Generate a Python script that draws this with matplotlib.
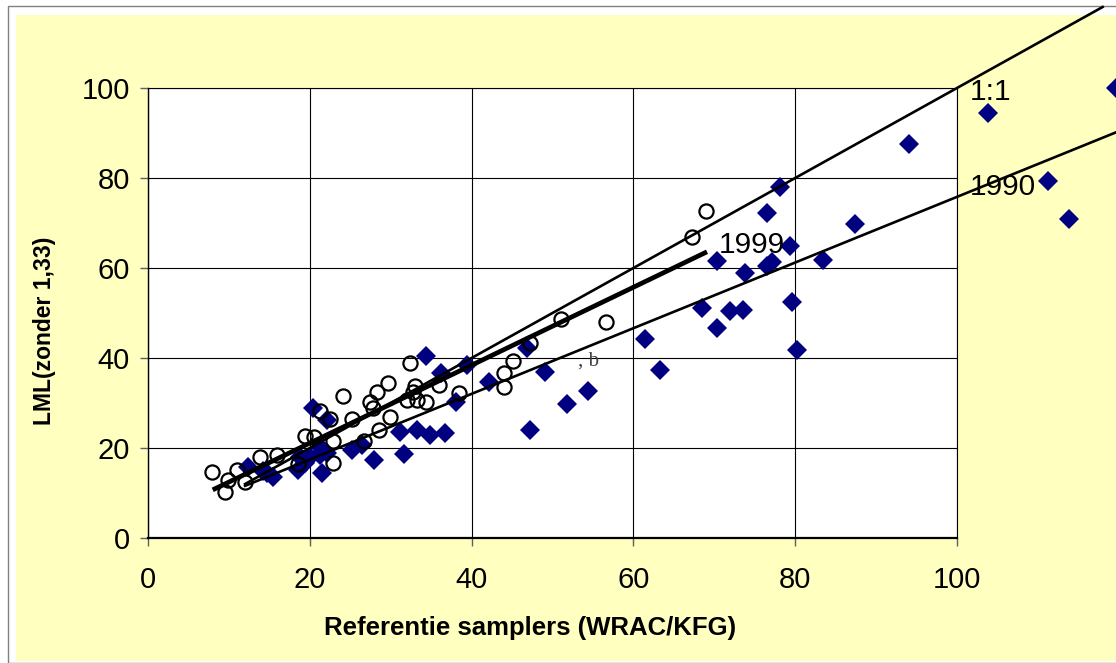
import matplotlib
matplotlib.use("Agg")
import matplotlib.pyplot as plt
from matplotlib.patches import Rectangle

plt.rcParams['font.family'] = ['Liberation Sans', 'DejaVu Sans']

# ── Data ──────────────────────────────────────────────────────────────────────
# open circles (1999 campaign)
x_1999 = [7.9, 9.5, 9.9, 11.0, 12.0, 13.8, 16.0, 18.6, 19.4, 20.5,
          21.3, 22.5, 22.9, 22.9, 24.1, 25.2, 26.7, 27.5, 27.8, 28.3,
          28.6, 29.7, 29.9, 32.0, 32.4, 33.0, 32.8, 33.2, 34.4, 36.0,
          38.4, 44.0, 44.0, 45.1, 47.2, 51.0, 56.6, 67.3, 69.0]
y_1999 = [14.7, 10.3, 12.9, 15.1, 12.5, 18.1, 18.4, 16.4, 22.7, 22.5,
          28.3, 26.4, 21.6, 16.6, 31.6, 26.4, 21.6, 30.3, 28.8, 32.5,
          24.0, 34.5, 27.0, 30.7, 39.0, 33.8, 32.5, 30.7, 30.3, 34.0,
          32.2, 36.6, 33.6, 39.4, 43.3, 48.6, 48.1, 67.0, 72.7]

# filled diamonds (1990 campaign)
x_1990 = [12.4, 14.2, 14.7, 15.5, 18.6, 18.8, 19.4, 20.0, 20.4, 21.3,
          21.3, 21.5, 22.1, 22.1, 25.2, 26.4, 27.9, 31.1, 31.6, 33.2,
          34.4, 34.9, 36.2, 36.7, 38.1, 39.4, 42.1, 46.8, 47.2, 49.1,
          51.8, 54.4, 61.4, 63.3, 68.5, 70.3, 70.3, 71.9, 73.5, 73.8,
          76.5, 76.5, 77.1, 78.1, 79.4, 79.6, 80.2, 83.4, 87.4, 94.1,
          103.8, 111.2, 113.8, 119.6]
y_1990 = [15.8, 14.8, 14.4, 13.6, 15.1, 18.1, 16.7, 18.1, 28.8, 20.3,
          18.4, 14.4, 18.8, 26.2, 19.6, 20.6, 17.3, 23.6, 18.6, 24.0,
          40.4, 22.9, 36.7, 23.4, 30.3, 38.4, 34.7, 42.2, 24.0, 36.9,
          29.8, 32.7, 44.2, 37.3, 51.1, 61.6, 46.7, 50.4, 50.7, 58.9,
          72.2, 60.4, 61.3, 78.0, 64.9, 52.4, 41.8, 61.8, 69.8, 87.6,
          94.4, 79.3, 70.9, 100.0]

# reference lines (end points)
line_11_x = [12.0, 118.0]
line_11_y = [12.0, 118.0]
fit_1999_x = [8.0, 69.1]
fit_1999_y = [10.7, 63.6]
fit_1990_x = [12.0, 120.0]
fit_1990_y = [11.6, 90.4]

ticks = [0, 20, 40, 60, 80, 100]

# ── Figure ────────────────────────────────────────────────────────────────────
W, H = 1116, 663
fig = plt.figure(figsize=(W / 100, H / 100), dpi=100, facecolor='white')

# outer border + yellow chart area (pixel coords -> figure fraction)
fig.patches.append(Rectangle((8 / W, 0), 1.2, 1 - 6 / H, transform=fig.transFigure,
                             facecolor='white', edgecolor='#808080', linewidth=1.0, zorder=-3))
fig.patches.append(Rectangle((16 / W, 1 - 661 / H), 1.2, (661 - 15) / H,
                             transform=fig.transFigure, facecolor='#FFFFC0',
                             edgecolor='none', zorder=-2))

ax = fig.add_axes([148 / W, 1 - 538 / H, (957 - 148) / W, (538 - 88) / H])
ax.set_facecolor('white')
ax.set_xlim(0, 100)
ax.set_ylim(0, 100)
ax.set_xticks(ticks)
ax.set_yticks(ticks)
ax.grid(True, color='#000000', linewidth=0.8)
ax.set_axisbelow(True)

for side in ['top', 'right']:
    ax.spines[side].set_linewidth(0.8)
ax.spines['left'].set_linewidth(1.0)
ax.spines['bottom'].set_linewidth(1.6)

ax.tick_params(axis='both', direction='out', length=6, width=1, color='#606060',
               labelsize=21)
ax.tick_params(axis='x', pad=14)
ax.tick_params(axis='y', pad=7)

ax.plot(x_1990, y_1990, linestyle='none', marker='D', markersize=10.5,
        color='#000080', markeredgewidth=0, clip_on=False, zorder=3)
ax.plot(x_1999, y_1999, linestyle='none', marker='o', markersize=10.2,
        markerfacecolor='none', markeredgecolor='black', markeredgewidth=1.6,
        clip_on=False, zorder=4)

ax.plot(line_11_x, line_11_y, color='black', linewidth=1.9, clip_on=False, zorder=5)
ax.plot(fit_1990_x, fit_1990_y, color='black', linewidth=1.9, clip_on=False, zorder=5)
ax.plot(fit_1999_x, fit_1999_y, color='black', linewidth=3.4, clip_on=False, zorder=5,
        solid_capstyle='butt')

ax.text(101.6, 99.1, '1:1', fontsize=21.5, va='center', ha='left')
ax.text(101.6, 78.0, '1990', fontsize=21.5, va='center', ha='left')
ax.text(70.5, 65.1, '1999', fontsize=21.5, va='center', ha='left')
ax.text(53.2, 38.4, ', b', fontsize=15, family='Liberation Serif', color='#404040',
        va='baseline', ha='left')

ax.set_xlabel('Referentie samplers (WRAC/KFG)', fontsize=18.5, fontweight='bold')
ax.set_ylabel('LML(zonder 1,33)', fontsize=16.5, fontweight='bold')
ax.xaxis.set_label_coords((530 - 148) / 809, (538 - 628) / 450)
ax.yaxis.set_label_coords((45 - 148) / 809, (538 - 331) / 450)
ax.xaxis.label.set_va('center')
ax.yaxis.label.set_va('center')

fig.savefig('out.png', dpi=100, facecolor=fig.get_facecolor())
